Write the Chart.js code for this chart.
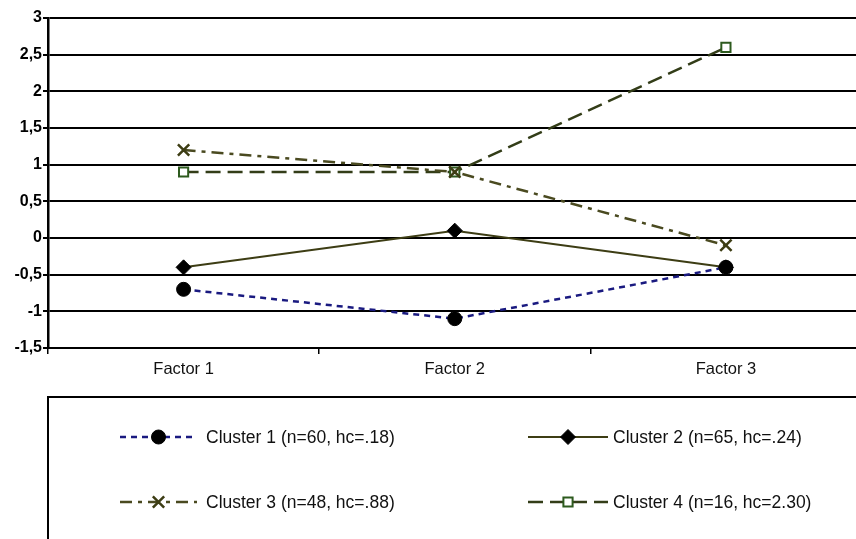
<!DOCTYPE html>
<html>
<head>
<meta charset="utf-8">
<script src="https://cdn.jsdelivr.net/npm/chart.js@4.4.1/dist/chart.umd.min.js"></script>
<style>
  html, body { margin: 0; padding: 0; background: #fff; overflow: hidden; }
  #wrap { width: 872px; height: 539px; }
</style>
</head>
<body>
<div id="wrap"><canvas id="chart" width="872" height="539"></canvas></div>
<script>
// values
const factors = ["Factor 1", "Factor 2", "Factor 3"];
const cluster1 = [-0.7, -1.1, -0.4];
const cluster2 = [-0.4, 0.1, -0.4];
const cluster3 = [1.2, 0.9, -0.1];
const cluster4 = [0.9, 0.9, 2.6];
const seriesNames = [
  "Cluster 1 (n=60, hc=.18)",
  "Cluster 2 (n=65, hc=.24)",
  "Cluster 3 (n=48, hc=.88)",
  "Cluster 4 (n=16, hc=2.30)",
];
const yMin = -1.5, yMax = 3, yStep = 0.5;

const FONT = "'Liberation Sans', Arial, sans-serif";

const datasets = [
  {
    label: seriesNames[0], data: cluster1,
    borderColor: "#1a1a80", borderWidth: 2.5, borderDash: [6, 5],
    pointStyle: "circle", pointRadius: 7, pointBackgroundColor: "#000", pointBorderColor: "#000", pointBorderWidth: 1,
  },
  {
    label: seriesNames[1], data: cluster2,
    borderColor: "#3d3d14", borderWidth: 2, borderDash: [],
    pointStyle: "rectRot", pointRadius: 7.5, pointBackgroundColor: "#000", pointBorderColor: "#000", pointBorderWidth: 1,
  },
  {
    label: seriesNames[2], data: cluster3,
    borderColor: "#4a4a20", borderWidth: 2.5, borderDash: [12, 6, 4, 6],
    pointStyle: "crossRot", pointRadius: 8, pointBackgroundColor: "#3d3d14", pointBorderColor: "#3d3d14", pointBorderWidth: 2.5,
  },
  {
    label: seriesNames[3], data: cluster4,
    borderColor: "#333d18", borderWidth: 2.5, borderDash: [15, 7],
    pointStyle: "rect", pointRadius: 6.5, pointBackgroundColor: "#fff", pointBorderColor: "#2d5a1e", pointBorderWidth: 2,
  },
];

// legend box under the plot, each entry is a line sample with its marker in the middle
const legendBox = {
  id: "legendBox",
  afterDraw(chart) {
    const ctx = chart.ctx;
    ctx.save();
    ctx.strokeStyle = "#000";
    ctx.lineWidth = 2;
    ctx.beginPath();
    ctx.moveTo(48, 539);
    ctx.lineTo(48, 397);
    ctx.lineTo(872, 397);
    ctx.stroke();

    const spots = [
      { x0: 120, x1: 197, y: 437, tx: 206 },
      { x0: 528, x1: 608, y: 437, tx: 613 },
      { x0: 120, x1: 197, y: 502, tx: 206 },
      { x0: 528, x1: 608, y: 502, tx: 613 },
    ];
    chart.data.datasets.forEach((ds, i) => {
      const s = spots[i];
      ctx.save();
      ctx.strokeStyle = ds.borderColor;
      ctx.lineWidth = ds.borderWidth;
      ctx.setLineDash(ds.borderDash);
      ctx.beginPath();
      ctx.moveTo(s.x0, s.y);
      ctx.lineTo(s.x1, s.y);
      ctx.stroke();
      ctx.restore();
      ctx.save();
      ctx.fillStyle = ds.pointBackgroundColor;
      ctx.strokeStyle = ds.pointBorderColor;
      ctx.lineWidth = ds.pointBorderWidth;
      Chart.helpers.drawPoint(ctx, {
        pointStyle: ds.pointStyle,
        radius: ds.pointRadius,
        rotation: 0,
        borderWidth: ds.pointBorderWidth,
      }, (s.x0 + s.x1) / 2, s.y);
      ctx.restore();
      ctx.fillStyle = "#111";
      ctx.font = "17.5px " + FONT;
      ctx.textBaseline = "middle";
      ctx.fillText(ds.label, s.tx, s.y + 1);
    });
    ctx.restore();
  },
};

new Chart(document.getElementById("chart"), {
  type: "line",
  data: { labels: factors, datasets },
  plugins: [legendBox],
  options: {
    responsive: false,
    animation: false,
    layout: { padding: { top: 18, right: 2, bottom: 151, left: 0 } },
    plugins: { legend: { display: false }, tooltip: { enabled: false } },
    elements: { line: { tension: 0, fill: false } },
    scales: {
      x: {
        offset: true,
        grid: { offset: true, drawOnChartArea: false, drawTicks: true, tickLength: 6, color: "#000", lineWidth: 1.5 },
        border: { display: true, color: "#000", width: 2 },
        ticks: { color: "#111", font: { family: FONT, size: 16.5 }, padding: 6 },
        afterFit(scale) { scale.height = 40; },
      },
      y: {
        min: yMin, max: yMax,
        grid: { color: "#000", lineWidth: 2, tickLength: 5 },
        border: { display: true, color: "#000", width: 2.5 },
        ticks: {
          stepSize: yStep,
          color: "#000",
          padding: 1,
          font: { family: FONT, size: 16, weight: "bold" },
          callback: (v) => String(v).replace(".", ","),
        },
        afterFit(scale) { scale.width = 48; },
      },
    },
  },
});
</script>
</body>
</html>
